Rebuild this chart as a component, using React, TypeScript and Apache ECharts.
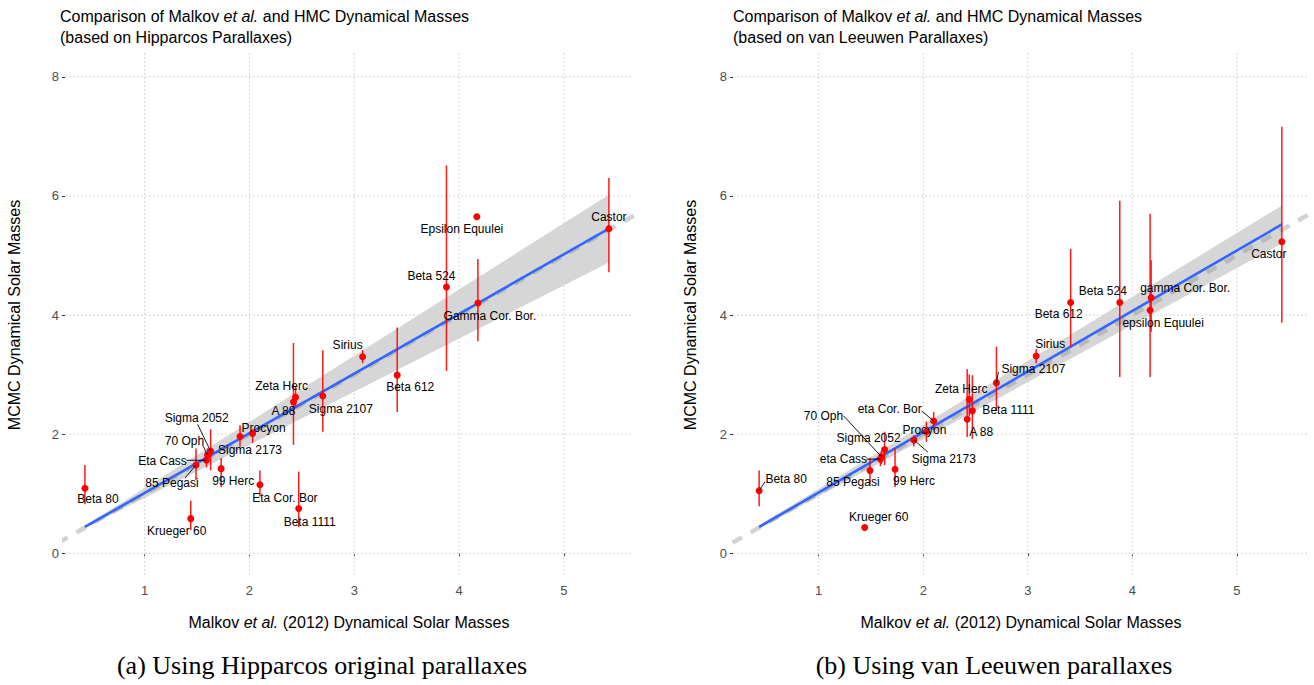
import React, { useEffect, useRef } from "react";
import * as echarts from "echarts";

// ---------- data ----------
const namesHip = [
  "Beta 80", "Krueger 60", "85 Pegasi", "Eta Cass", "70 Oph", "Sigma 2052", "99 Herc",
  "Sigma 2173", "Procyon", "Eta Cor. Bor", "A 88", "Zeta Herc", "Beta 1111", "Sigma 2107",
  "Sirius", "Beta 612", "Beta 524", "Gamma Cor. Bor.", "Epsilon Equulei", "Castor",
];
const namesVL = [
  "Beta 80", "Krueger 60", "85 Pegasi", "eta Cass", "70 Oph", "Sigma 2052", "99 Herc",
  "Sigma 2173", "Procyon", "eta Cor. Bor", "A 88", "Zeta Herc", "Beta 1111", "Sigma 2107",
  "Sirius", "Beta 612", "Beta 524", "gamma Cor. Bor.", "epsilon Equulei", "Castor",
];
// Malkov et al. (2012) dynamical masses (x)
const malkovMass = [0.43, 1.44, 1.49, 1.59, 1.6, 1.63, 1.73, 1.91, 2.03, 2.1, 2.42, 2.44, 2.47, 2.7, 3.08, 3.41, 3.88, 4.18, 4.17, 5.43];
// MCMC masses, Hipparcos parallaxes
const hipMass = [1.09, 0.58, 1.48, 1.56, 1.65, 1.71, 1.42, 1.96, 2.01, 1.15, 2.54, 2.62, 0.75, 2.64, 3.3, 2.99, 4.47, 4.2, 5.65, 5.45];
const hipLow = [0.82, 0.39, 1.23, 1.44, 1.52, 1.39, 1.11, 1.79, 1.85, 0.95, 1.82, 2.45, 0.44, 2.04, 3.19, 2.37, 3.06, 3.56, 5.65, 4.72];
const hipHigh = [1.48, 0.88, 1.76, 1.7, 1.76, 2.08, 1.6, 2.15, 2.08, 1.39, 3.53, 2.8, 1.37, 3.41, 3.41, 3.79, 6.51, 4.94, 5.65, 6.3];
// MCMC masses, van Leeuwen parallaxes
const vlMass = [1.05, 0.43, 1.39, 1.58, 1.62, 1.74, 1.41, 1.9, 2.04, 2.22, 2.25, 2.58, 2.39, 2.86, 3.31, 4.21, 4.21, 4.29, 4.08, 5.23];
const vlLow = [0.79, 0.43, 1.16, 1.46, 1.5, 1.48, 1.11, 1.79, 1.87, 2.07, 1.95, 2.3, 1.92, 2.4, 3.19, 3.47, 2.96, 3.72, 2.96, 3.87];
const vlHigh = [1.39, 0.43, 1.6, 1.68, 1.72, 2.04, 1.76, 1.98, 2.21, 2.37, 3.09, 3.0, 2.99, 3.47, 3.43, 5.11, 5.92, 4.92, 5.7, 7.16];
// fitted line + confidence band
const fitXHip = [0.43, 5.43];
const fitYHip = [0.44, 5.45];
const bandLowHip = [0.42, 4.88];
const bandHighHip = [0.46, 6.02];
const fitXVL = [0.43, 5.43];
const fitYVL = [0.44, 5.52];
const bandLowVL = [0.41, 5.2];
const bandHighVL = [0.47, 5.84];
const identityLine = [0, 7];
const xTicks = [1, 2, 3, 4, 5];
const yTicks = [0, 2, 4, 6, 8];

// ---------- label layout (pixel offsets: dx, dy, [leader end dx, dy]) ----------
const layoutHip: Record<string, number[]> = {
  "Beta 80": [13, 11],
  "Krueger 60": [-14, 12],
  "85 Pegasi": [-24, 18, -11, 13],
  "Eta Cass": [-44, 1, -20, 0],
  "70 Oph": [-23, -14, -5, -10],
  "Sigma 2052": [-14, -33, -13, -27],
  "99 Herc": [12, 12],
  "Sigma 2173": [10, 14],
  "Procyon": [11, -5],
  "Eta Cor. Bor": [25, 13],
  "A 88": [-10, 9],
  "Zeta Herc": [-14, -11],
  "Beta 1111": [11, 13],
  "Sigma 2107": [18, 13],
  "Sirius": [-15, -12],
  "Beta 612": [13, 12],
  "Beta 524": [-15, -11],
  "Gamma Cor. Bor.": [12, 13],
  "Epsilon Equulei": [-15, 12],
  "Castor": [0, -12],
};
const layoutVL: Record<string, number[]> = {
  "Beta 80": [27, -12, 6, -9],
  "Krueger 60": [14, -11],
  "85 Pegasi": [-17, 12],
  "eta Cass": [-37, 0, -14, 0],
  "70 Oph": [-58, -41, -38, -41],
  "Sigma 2052": [-16, -12],
  "99 Herc": [19, 12],
  "Sigma 2173": [30, 19, 14, 12],
  "Procyon": [-2, -2],
  "eta Cor. Bor": [-44, -12, -12, -10],
  "A 88": [14, 13],
  "Zeta Herc": [-8, -11],
  "Beta 1111": [36, -1],
  "Sigma 2107": [37, -14, 2, -11],
  "Sirius": [14, -12],
  "Beta 612": [-12, 12],
  "Beta 524": [-17, -11],
  "gamma Cor. Bor.": [34, -10],
  "epsilon Equulei": [13, 13],
  "Castor": [-13, 12],
};

const SANS = '"Liberation Sans", Arial, Helvetica, sans-serif';
const SERIF = '"Liberation Serif", "Times New Roman", serif';

function panelSeries(gi: number, names: string[], ys: number[], lo: number[], hi: number[],
  fx: number[], fy: number[], bl: number[], bh: number[], layout: Record<string, number[]>) {
  const gridItems = [
    ...xTicks.map((v) => [v, 0]),
    ...yTicks.map((v) => [v, 1]),
  ];
  return [
    {
      type: "custom",
      xAxisIndex: gi,
      yAxisIndex: gi,
      silent: true,
      z: 1,
      data: gridItems,
      renderItem: (params: any, api: any) => {
        const cs = params.coordSys;
        const v = api.value(0);
        const dir = api.value(1);
        if (dir === 0) {
          const px = api.coord([v, 1])[0];
          return { type: "line", shape: { x1: px, y1: cs.y, x2: px, y2: cs.y + cs.height },
            style: { stroke: "#d6d6d6", lineWidth: 1, lineDash: [2, 2] } };
        }
        const py = api.coord([1, v])[1];
        return { type: "line", shape: { x1: cs.x, y1: py, x2: cs.x + cs.width, y2: py },
          style: { stroke: "#d6d6d6", lineWidth: 1, lineDash: [2, 2] } };
      },
    },
    {
      type: "custom",
      xAxisIndex: gi,
      yAxisIndex: gi,
      silent: true,
      z: 2,
      data: fx.map((x, i) => [x, bl[i], bh[i]]),
      renderItem: (params: any, api: any) => {
        if (params.dataIndex !== 0) return null;
        const pts: number[][] = [];
        for (let i = 0; i < fx.length; i++) pts.push(api.coord([fx[i], bh[i]]));
        for (let i = fx.length - 1; i >= 0; i--) pts.push(api.coord([fx[i], bl[i]]));
        return { type: "polygon", shape: { points: pts }, style: { fill: "#d6d6d6" } };
      },
    },
    {
      type: "line",
      xAxisIndex: gi,
      yAxisIndex: gi,
      silent: true,
      z: 3,
      showSymbol: false,
      clip: true,
      data: identityLine.map((v) => [v, v]),
      lineStyle: { color: "rgba(140,140,140,0.38)", width: 4.5, type: [11, 10] },
    },
    {
      type: "line",
      xAxisIndex: gi,
      yAxisIndex: gi,
      silent: true,
      z: 4,
      showSymbol: false,
      data: fx.map((x, i) => [x, fy[i]]),
      lineStyle: { color: "#3366FF", width: 2.6 },
    },
    {
      type: "custom",
      xAxisIndex: gi,
      yAxisIndex: gi,
      silent: true,
      z: 5,
      data: malkovMass.map((x, i) => [x, lo[i], hi[i]]),
      renderItem: (params: any, api: any) => {
        const x = api.value(0);
        const l = api.value(1);
        const h = api.value(2);
        if (h - l < 0.001) return null;
        const a = api.coord([x, l]);
        const b = api.coord([x, h]);
        return { type: "line", shape: { x1: a[0], y1: a[1], x2: b[0], y2: b[1] },
          style: { stroke: "rgba(255,0,0,0.9)", lineWidth: 1.5 } };
      },
    },
    {
      type: "scatter",
      xAxisIndex: gi,
      yAxisIndex: gi,
      silent: true,
      z: 6,
      symbolSize: 7,
      itemStyle: { color: "#FF0000", opacity: 1 },
      data: malkovMass.map((x, i) => [x, ys[i]]),
    },
    {
      type: "custom",
      xAxisIndex: gi,
      yAxisIndex: gi,
      silent: true,
      z: 7,
      data: malkovMass.map((x, i) => [x, ys[i], i]),
      renderItem: (params: any, api: any) => {
        const i = params.dataIndex;
        const name = names[i];
        const L = layout[name] || [0, -12];
        const p = api.coord([api.value(0), api.value(1)]);
        const children: any[] = [];
        if (L.length > 2) {
          children.push({ type: "line", shape: { x1: p[0] + L[2], y1: p[1] + L[3], x2: p[0], y2: p[1] },
            style: { stroke: "#000", lineWidth: 0.9 } });
        }
        children.push({
          type: "text",
          x: p[0] + L[0],
          y: p[1] + L[1],
          style: { text: name, fill: "#000", fontSize: 12, fontFamily: SANS, align: "center", verticalAlign: "middle" },
        });
        return { type: "group", children };
      },
    },
  ];
}

function axisX(gi: number, min: number, max: number) {
  return {
    gridIndex: gi, type: "value", min, max,
    axisLine: { show: false },
    axisTick: { show: true, length: 3, lineStyle: { color: "#333" }, customValues: xTicks },
    axisLabel: { show: true, color: "#4d4d4d", fontSize: 13, fontFamily: SANS, margin: 7, customValues: xTicks },
    splitLine: { show: false },
  };
}
function axisY(gi: number) {
  return {
    gridIndex: gi, type: "value", min: -0.4, max: 8.4,
    axisLine: { show: false },
    axisTick: { show: true, length: 3, lineStyle: { color: "#333" }, customValues: yTicks },
    axisLabel: { show: true, color: "#4d4d4d", fontSize: 13, fontFamily: SANS, margin: 6, customValues: yTicks },
    splitLine: { show: false },
  };
}

function titleText(x: number, sub: string) {
  return {
    type: "text", x, y: 6, silent: true,
    style: {
      text: "Comparison of Malkov {i|et al.} and HMC Dynamical Masses\n" + sub,
      fill: "#000", fontSize: 16, fontFamily: SANS, lineHeight: 21, align: "left", verticalAlign: "top",
      rich: { i: { fontStyle: "italic", fontSize: 16, fontFamily: SANS, lineHeight: 21, fill: "#000" } },
    },
  };
}
function xTitle(x: number) {
  return {
    type: "text", x, y: 622, silent: true,
    style: {
      text: "Malkov {i|et al.} (2012) Dynamical Solar Masses",
      fill: "#000", fontSize: 16, fontFamily: SANS, align: "center", verticalAlign: "middle",
      rich: { i: { fontStyle: "italic", fontSize: 16, fontFamily: SANS, fill: "#000" } },
    },
  };
}
function yTitle(x: number) {
  return {
    type: "text", x, y: 315, rotation: Math.PI / 2, silent: true,
    style: { text: "MCMC Dynamical Solar Masses", fill: "#000", fontSize: 16, fontFamily: SANS, align: "center", verticalAlign: "middle" },
  };
}

function buildOption() {
  return {
    animation: false,
    backgroundColor: "#ffffff",
    grid: [
      { left: 65, top: 53, width: 568, height: 524 },
      { left: 733, top: 53, width: 576, height: 524 },
    ],
    xAxis: [axisX(0, 0.24, 5.66), axisX(1, 0.18, 5.69)],
    yAxis: [axisY(0), axisY(1)],
    series: [
      ...panelSeries(0, namesHip, hipMass, hipLow, hipHigh, fitXHip, fitYHip, bandLowHip, bandHighHip, layoutHip),
      ...panelSeries(1, namesVL, vlMass, vlLow, vlHigh, fitXVL, fitYVL, bandLowVL, bandHighVL, layoutVL),
    ],
    graphic: [
      titleText(60, "(based on Hipparcos Parallaxes)"),
      titleText(733, "(based on van Leeuwen Parallaxes)"),
      xTitle(349),
      xTitle(1021),
      yTitle(14),
      yTitle(690),
      {
        type: "text", x: 322, y: 665, silent: true,
        style: { text: "(a) Using Hipparcos original parallaxes", fill: "#000", fontSize: 26, fontFamily: SERIF, align: "center", verticalAlign: "middle" },
      },
      {
        type: "text", x: 994, y: 665, silent: true,
        style: { text: "(b) Using van Leeuwen parallaxes", fill: "#000", fontSize: 26, fontFamily: SERIF, align: "center", verticalAlign: "middle" },
      },
    ],
  };
}

export default function App() {
  const ref = useRef<HTMLDivElement>(null);
  useEffect(() => {
    const chart = echarts.init(ref.current as HTMLDivElement, null, { renderer: "svg" });
    chart.setOption(buildOption() as any);
    return () => chart.dispose();
  }, []);
  return (
    <div
      ref={ref}
      style={{ position: "absolute", left: 0, top: 0, width: 1314, height: 685, background: "#fff" }}
    />
  );
}
